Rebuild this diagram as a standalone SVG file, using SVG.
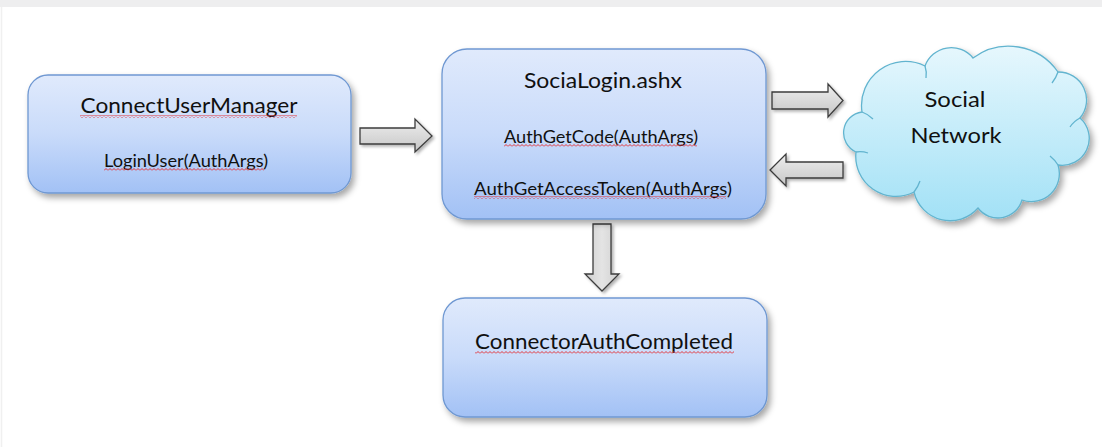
<svg xmlns="http://www.w3.org/2000/svg" width="1102" height="447" viewBox="0 0 1102 447">
  <style>
    .box { stroke: #6f98d2; stroke-width: 1.3; fill: url(#boxFill); filter: url(#shadow); }
    .cloud { stroke: #62b4cf; stroke-width: 1.3; fill: url(#cloudFill); filter: url(#shadow); }
    .hook { stroke: #62b4cf; stroke-width: 1.3; fill: none; }
    .arrow { stroke: #3d3d3d; stroke-width: 1.3; stroke-linejoin: miter; fill: url(#arrowFillH); filter: url(#arrowShadow); }
    .arrow.v { fill: url(#arrowFillV); }
    text { font-family: Lato, "Open Sans", "Liberation Sans", sans-serif; fill: #101010; text-anchor: middle; }
    .title { font-size: 21.5px; }
    .method { font-size: 17px; }
    .squiggle { fill: url(#squiggle); }
  </style>
  <defs>
    <linearGradient id="boxFill" x1="0" y1="0" x2="0" y2="1">
      <stop offset="0" stop-color="#e0eafc"/>
      <stop offset="0.5" stop-color="#c9dbfa"/>
      <stop offset="1" stop-color="#a2c1f5"/>
    </linearGradient>
    <linearGradient id="cloudFill" x1="0" y1="0" x2="0" y2="1">
      <stop offset="0" stop-color="#e6f7fd"/>
      <stop offset="1" stop-color="#a2e1f6"/>
    </linearGradient>
    <linearGradient id="arrowFillH" x1="0" y1="0" x2="0" y2="1">
      <stop offset="0" stop-color="#eeeeee"/>
      <stop offset="1" stop-color="#c6c6c6"/>
    </linearGradient>
    <linearGradient id="arrowFillV" x1="0" y1="0" x2="1" y2="0">
      <stop offset="0" stop-color="#cfcfcf"/>
      <stop offset="0.5" stop-color="#e4e4e4"/>
      <stop offset="1" stop-color="#d0d0d0"/>
    </linearGradient>
    <filter id="shadow" x="-10%" y="-10%" width="125%" height="130%">
      <feDropShadow dx="3" dy="4" stdDeviation="3" flood-color="#000" flood-opacity="0.35"/>
    </filter>
    <filter id="arrowShadow" x="-20%" y="-20%" width="150%" height="160%">
      <feDropShadow dx="2" dy="2" stdDeviation="1.5" flood-color="#000" flood-opacity="0.3"/>
    </filter>
    <pattern id="squiggle" width="4" height="3" patternUnits="userSpaceOnUse">
      <path d="M0 2.5 L2 0.5 L4 2.5" fill="none" stroke="#e2343a" stroke-width="1"/>
    </pattern>
  </defs>

  <!-- page background and top frame strip -->
  <rect x="0" y="0" width="1102" height="447" fill="#ffffff"/>
  <rect x="0" y="0" width="1102" height="7" fill="#eeeeef"/>
  <line x1="1.5" y1="7" x2="1.5" y2="447" stroke="#f0f0f0" stroke-width="1.5"/>

  <!-- connectors -->
  <g id="connectors">
    <polygon class="arrow" points="360,128 415,128 415,119 432,136 415,152 415,144 360,144"/>
    <polygon class="arrow" points="772,92 828,92 828,84 843,100.5 828,117 828,109 772,109"/>
    <polygon class="arrow" points="843,162 786,162 786,154 770,170 786,186 786,178 843,178"/>
    <polygon class="arrow v" points="593,224 611,224 611,274 619,274 602,291 585,274 593,274"/>
  </g>

  <g id="connect-user-manager">
    <rect class="box" x="28" y="75" width="323" height="118" rx="20" ry="20"/>
    <text class="title" x="189" y="113" textLength="217" lengthAdjust="spacingAndGlyphs">ConnectUserManager</text>
    <rect class="squiggle" x="80" y="115" width="217" height="3"/>
    <text class="method" x="186" y="167" textLength="164" lengthAdjust="spacingAndGlyphs">LoginUser(AuthArgs)</text>
    <rect class="squiggle" x="104" y="168" width="160" height="3"/>
  </g>

  <g id="social-login">
    <rect class="box" x="442" y="49" width="324" height="170" rx="25" ry="25"/>
    <text class="title" x="603" y="88" textLength="158" lengthAdjust="spacingAndGlyphs">SociaLogin.ashx</text>
    <text class="method" x="601" y="143" textLength="194" lengthAdjust="spacingAndGlyphs">AuthGetCode(AuthArgs)</text>
    <rect class="squiggle" x="504" y="144" width="193" height="3"/>
    <text class="method" x="603" y="195" textLength="258" lengthAdjust="spacingAndGlyphs">AuthGetAccessToken(AuthArgs)</text>
    <rect class="squiggle" x="474" y="196" width="252" height="3"/>
  </g>

  <g id="social-network">
    <path class="cloud" d="M862 112 A44 44 0 0 1 925 66 A28 28 0 0 1 973 58 A60 60 0 0 1 1058 72 A28 28 0 0 1 1080 118 A27 27 0 0 1 1058 165 A28 28 0 0 1 1022 200 A25 25 0 0 1 978 208 A37 37 0 0 1 914 192 A40 40 0 0 1 856 152 A21 21 0 0 1 862 112 Z"/>
    <path class="hook" d="M862 112 Q868 114 873 119"/>
    <path class="hook" d="M925 66 Q927 72 926 78"/>
    <path class="hook" d="M1058 72 Q1056 78 1052 83"/>
    <path class="hook" d="M1080 118 Q1074 121 1070 127"/>
    <path class="hook" d="M1058 165 Q1055 160 1050 156"/>
    <path class="hook" d="M914 192 Q918 187 920 181"/>
    <path class="hook" d="M856 152 Q862 151 868 153"/>
    <text class="title" x="955" y="107" textLength="61" lengthAdjust="spacingAndGlyphs">Social</text>
    <text class="title" x="956" y="143" textLength="91" lengthAdjust="spacingAndGlyphs">Network</text>
  </g>

  <g id="connector-auth-completed">
    <rect class="box" x="443" y="298" width="324" height="119" rx="22" ry="22"/>
    <text class="title" x="604" y="349" textLength="258" lengthAdjust="spacingAndGlyphs">ConnectorAuthCompleted</text>
    <rect class="squiggle" x="475" y="351" width="259" height="3"/>
  </g>
</svg>
